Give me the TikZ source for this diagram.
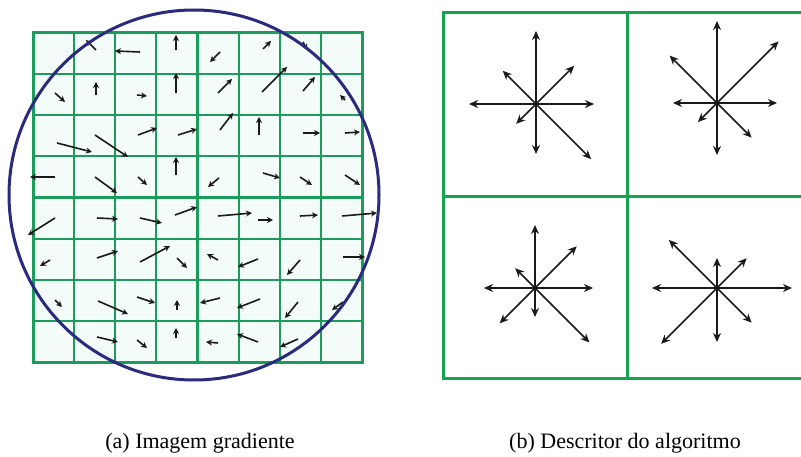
\documentclass[tikz,border=0pt]{standalone}
\usepackage{fontspec}
\setmainfont{Liberation Serif}
\usetikzlibrary{arrows.meta}
\definecolor{gridgreen}{HTML}{1B9C5A}
\definecolor{boxgreen}{HTML}{16A34F}
\definecolor{circblue}{HTML}{2A2A7E}
\definecolor{cellmint}{HTML}{F3FCF8}
\definecolor{arrowgray}{HTML}{1A1A1A}
\tikzset{
  gradarrow/.style={arrowgray, line width=1.6pt, -{Stealth[length=6pt,width=6pt]}},
  histarrow/.style={arrowgray, line width=1.7pt, -{Stealth[length=9pt,width=8pt]}},
  gridline/.style={gridgreen, line width=1.8pt},
  gridframe/.style={gridgreen, line width=3pt},
  boxline/.style={boxgreen, line width=3pt},
  caption/.style={font=\fontsize{22}{26}\selectfont, anchor=base}
}
\begin{document}
\begin{tikzpicture}[x=1pt, y=-1pt]
  \useasboundingbox (0,0) rectangle (801,457);
  % (a) gradient image
  \fill[cellmint] (33,33) rectangle (362,362);
  \foreach \k in {1,2,3,5,6,7}{
    \draw[gridline] ({33+\k*41.125},33) -- ({33+\k*41.125},362);
    \draw[gridline] (33,{33+\k*41.125}) -- (362,{33+\k*41.125});
  }
  \draw[gridframe] (33,33) rectangle (362,362);
  \draw[gridframe] (197.5,33) -- (197.5,362);
  \draw[gridframe] (33,197.5) -- (362,197.5);
  \foreach \xa/\ya/\xb/\yb in {
      96/50/86/40, 140/52/115/51, 176/50/176/35, 220/52/210/62, 263/49/271/41, 303/42/307/50,
      55/93/65/102, 96/95/96/82, 137/95/147/96, 176/93/176/73, 218/93/232/79, 262/92/287/67, 303/91/315/77, 345/100/340/95,
      57/143/92/152, 95/135/128/157, 138/135/157/128, 178/135/197/129, 220/130/233/113, 259/135/259/117, 303/133/320/133, 345/133/360/132,
      55/177/30/177, 95/177/117/193, 138/177/147/185, 176/175/176/157, 219/178/208/187, 263/173/280/178, 300/177/312/185, 345/175/360/185,
      55/218/28/235, 97/218/118/219, 140/218/162/223, 175/215/197/207, 218/216/252/213, 258/220/273/220, 300/216/318/215, 342/216/377/213,
      50/260/40/266, 97/258/118/251, 140/262/170/246, 177/258/187/268, 218/260/207/254, 258/259/238/267, 300/260/287/275, 343/257/365/257,
      55/300/62/307, 98/301/128/314, 137/297/155/303, 177/310/177/300, 220/298/200/303, 260/299/237/308, 298/302/285/318, 343/302/332/310,
      97/337/118/342, 137/340/147/348, 176/338/176/328, 218/343/206/342, 258/342/237/334, 298/339/280/347}{
    \draw[gradarrow] (\xa,\ya) -- (\xb,\yb);
  }
  \draw[circblue, line width=3pt] (194,195) circle (185pt);
  % (b) descriptor
  \draw[boxline] (801,13) -- (443,13) -- (443,378) -- (801,378);
  \draw[boxline] (627,13) -- (627,378);
  \draw[boxline] (443,197) -- (801,197);
  \coordinate (h1) at (536,104);
  \coordinate (h2) at (717,103);
  \coordinate (h3) at (535,288);
  \coordinate (h4) at (717,288);
  \foreach \ang/\len in {90/73, 45/54, 0/58, 315/78, 270/50, 225/28, 180/67, 135/47}
    \draw[histarrow] (h1) -- ++({-\ang}:\len);
  \foreach \ang/\len in {90/82, 45/87, 0/60, 315/49, 270/52, 225/27, 180/44, 135/67}
    \draw[histarrow] (h2) -- ++({-\ang}:\len);
  \foreach \ang/\len in {90/63, 45/59, 0/58, 315/77, 270/29, 225/50, 180/51, 135/28}
    \draw[histarrow] (h3) -- ++({-\ang}:\len);
  \foreach \ang/\len in {90/30, 45/42, 0/75, 315/49, 270/54, 225/79, 180/65, 135/68}
    \draw[histarrow] (h4) -- ++({-\ang}:\len);
  \foreach \c in {h1,h2,h3,h4}
    \fill[arrowgray] (\c) circle (2.4pt);
  \node[caption] (capa) at (200,448) {(a) Imagem gradiente};
  \node[caption] (capb) at (625,448) {(b) Descritor do algoritmo};
\end{tikzpicture}
\end{document}
